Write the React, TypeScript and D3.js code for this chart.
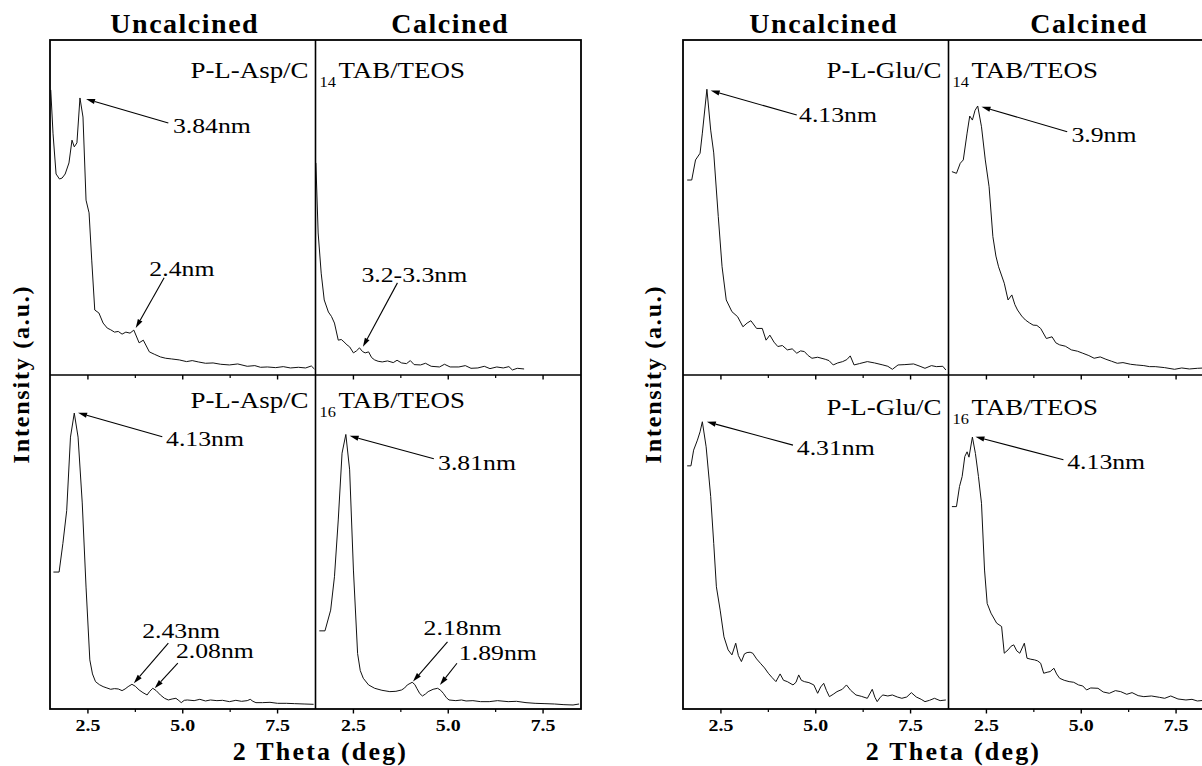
import React from "react";
import * as d3 from "d3";

type Pt = [number, number];

// ---------- axis values ----------
const thetaDomain: [number, number] = [1.5, 8.5];
const intensityDomain: [number, number] = [0, 100];
const thetaMajorTicks = [2.5, 5.0, 7.5];
const thetaMinorTicks = [3.75, 6.25];
const columnTitles = ["Uncalcined", "Calcined"];
const xAxisTitle = "2 Theta (deg)";
const yAxisTitle = "Intensity (a.u.)";

// ---------- series (2θ, intensity a.u.) ----------
const aspC14Uncalcined: Pt[] = [
  [1.52, 85.1], [1.58, 72], [1.66, 60], [1.75, 58.5], [1.82, 58.8], [1.9, 60], [2.0, 63.3], [2.08, 70.1],
  [2.14, 68.1], [2.21, 69.3], [2.29, 82.7], [2.37, 77.0], [2.45, 52.2], [2.53, 48.4], [2.6, 34.3],
  [2.68, 19.4], [2.79, 18.5], [2.9, 15.5], [3.01, 14.0], [3.1, 13.5], [3.2, 12.8], [3.3, 13.0],
  [3.4, 12.2], [3.5, 12.8], [3.61, 12.5], [3.71, 13.4], [3.85, 9.6], [3.96, 10.4], [4.12, 6.9],
  [4.25, 6.2], [4.41, 5.4], [4.55, 5.0], [4.7, 4.8], [4.91, 4.5], [5.1, 4.0], [5.25, 4.3],
  [5.41, 3.9], [5.6, 3.5], [5.8, 3.6], [6.0, 3.2], [6.23, 3.0], [6.45, 3.3], [6.7, 2.6], [6.9, 2.8],
  [7.05, 2.3], [7.23, 2.4], [7.45, 2.2], [7.65, 2.5], [7.84, 2.1], [8.05, 2.3], [8.24, 2.1],
  [8.39, 2.7], [8.47, 1.8],
];
const aspC14Calcined: Pt[] = [
  [1.51, 63.3], [1.57, 42.4], [1.65, 30.4], [1.73, 22.4], [1.84, 18.8], [1.92, 17.5], [2.0, 15.5],
  [2.1, 10.4], [2.18, 10.6], [2.25, 9.9], [2.33, 9.0], [2.4, 8.4], [2.5, 6.6], [2.58, 7.2], [2.66, 8.1],
  [2.74, 7.0], [2.81, 6.6], [2.9, 6.9], [2.98, 5.2], [3.06, 4.5], [3.15, 4.1], [3.26, 3.9], [3.4, 4.2],
  [3.55, 3.7], [3.65, 4.4], [3.77, 3.6], [3.9, 3.4], [4.0, 4.3], [4.1, 3.1], [4.27, 3.0], [4.4, 3.5],
  [4.55, 2.6], [4.77, 2.4], [4.9, 3.2], [5.05, 2.4], [5.28, 2.4], [5.45, 2.8], [5.6, 2.0], [5.78, 2.1],
  [5.95, 2.6], [6.1, 1.9], [6.28, 2.4], [6.45, 2.1], [6.6, 2.5], [6.69, 1.5], [6.82, 2.0], [7.0, 1.8],
];
const aspC16Uncalcined: Pt[] = [
  [1.59, 41.0], [1.74, 41.0], [1.84, 49.6], [1.94, 59.4], [2.04, 81.4], [2.14, 88.6], [2.24, 81.4],
  [2.35, 61.7], [2.45, 36.5], [2.55, 14.7], [2.62, 10.5], [2.7, 8.2], [2.8, 7.3], [2.9, 6.7], [3.0, 6.3],
  [3.1, 5.9], [3.2, 6.1], [3.3, 6.0], [3.4, 5.5], [3.48, 6.0], [3.56, 6.7], [3.66, 7.4], [3.75, 6.8],
  [3.85, 5.7], [3.95, 4.9], [4.06, 4.2], [4.13, 5.3], [4.21, 6.2], [4.3, 5.5], [4.41, 4.2], [4.52, 3.2],
  [4.62, 2.7], [4.72, 3.0], [4.82, 3.2], [4.9, 2.5], [4.96, 1.9], [5.04, 2.6], [5.12, 2.7], [5.3, 2.5],
  [5.45, 2.9], [5.6, 2.4], [5.73, 2.7], [5.9, 2.5], [6.05, 2.6], [6.23, 2.2], [6.4, 2.6], [6.55, 2.3],
  [6.7, 2.5], [6.78, 2.9], [6.85, 2.3], [6.93, 1.9], [7.1, 1.9], [7.3, 2.0], [7.5, 1.7], [7.73, 1.7],
  [7.95, 1.6], [8.2, 1.5], [8.45, 1.4],
];
const aspC16Calcined: Pt[] = [
  [1.6, 23.4], [1.75, 23.4], [1.9, 29.6], [2.0, 39.6], [2.1, 56.6], [2.2, 76.6], [2.3, 82.2], [2.4, 71.6],
  [2.5, 41.6], [2.61, 16.6], [2.68, 11.5], [2.76, 9.2], [2.9, 7.2], [3.06, 6.2], [3.25, 5.6], [3.46, 5.2],
  [3.62, 5.3], [3.77, 5.7], [3.85, 6.3], [3.92, 7.2], [4.05, 8.0], [4.12, 7.3], [4.17, 6.2], [4.25, 4.6],
  [4.32, 3.9], [4.4, 4.5], [4.47, 5.2], [4.6, 5.9], [4.72, 6.2], [4.8, 5.6], [4.87, 4.7], [4.95, 3.4],
  [5.02, 2.7], [5.2, 2.5], [5.35, 2.7], [5.47, 2.4], [5.65, 2.5], [5.85, 2.2], [6.08, 2.2], [6.3, 2.5],
  [6.58, 2.2], [6.8, 2.3], [7.05, 1.9], [7.29, 1.7], [7.55, 1.6], [7.8, 1.5], [8.05, 1.3], [8.29, 1.2],
  [8.45, 1.5],
];
const gluC14Uncalcined: Pt[] = [
  [1.61, 58.2], [1.73, 58.2], [1.83, 64.2], [1.95, 66.2], [2.01, 72.2], [2.13, 85.3], [2.23, 73.1],
  [2.31, 66.3], [2.43, 47.3], [2.53, 32.3], [2.64, 22.4], [2.79, 18.9], [2.94, 17.4], [3.08, 14.4],
  [3.19, 15.5], [3.29, 16.2], [3.44, 13.9], [3.59, 13.9], [3.69, 10.4], [3.79, 11.9], [3.9, 9.8],
  [4.0, 8.5], [4.12, 8.8], [4.25, 7.5], [4.38, 7.8], [4.5, 6.5], [4.6, 7.2], [4.7, 7.0], [4.8, 5.8],
  [4.9, 5.0], [5.05, 5.3], [5.25, 4.7], [5.35, 4.3], [5.46, 3.0], [5.58, 3.6], [5.71, 4.0], [5.82, 4.6],
  [5.91, 5.7], [6.01, 3.0], [6.15, 3.4], [6.36, 4.0], [6.55, 3.6], [6.77, 3.0], [6.9, 2.6], [7.02, 1.7],
  [7.17, 3.0], [7.35, 3.1], [7.58, 3.3], [7.75, 2.6], [7.88, 2.0], [8.05, 2.8], [8.18, 2.5], [8.35, 2.6],
  [8.43, 1.5],
];
const gluC14Calcined: Pt[] = [
  [1.59, 60.7], [1.71, 60.2], [1.81, 63.2], [1.89, 64.2], [1.99, 72.2], [2.06, 77.3], [2.13, 76.1],
  [2.2, 79.0], [2.27, 80.3], [2.37, 74.1], [2.47, 64.2], [2.57, 56.2], [2.67, 41.3], [2.75, 35.5],
  [2.82, 32.3], [2.97, 27.4], [3.07, 22.4], [3.17, 23.9], [3.25, 21.0], [3.32, 19.4], [3.43, 17.6],
  [3.53, 16.4], [3.63, 15.6], [3.73, 14.9], [3.83, 14.8], [3.93, 13.9], [4.08, 10.9], [4.23, 11.4],
  [4.33, 9.6], [4.43, 9.0], [4.58, 8.6], [4.74, 7.5], [4.9, 7.1], [5.04, 6.5], [5.2, 5.8], [5.34, 5.0],
  [5.5, 5.4], [5.65, 4.7], [5.8, 4.1], [5.95, 3.5], [6.1, 3.7], [6.3, 3.2], [6.45, 3.0], [6.65, 2.8],
  [6.8, 2.5], [6.95, 2.5], [7.2, 2.2], [7.46, 1.7], [7.65, 2.1], [7.85, 1.8], [8.06, 2.0], [8.25, 2.1],
  [8.45, 1.9],
];
const gluC16Uncalcined: Pt[] = [
  [1.61, 72.8], [1.71, 72.8], [1.78, 77.5], [1.88, 80.5], [1.95, 83.0], [2.01, 86.0], [2.11, 78.5],
  [2.23, 63.6], [2.31, 49.6], [2.38, 36.6], [2.48, 29.6], [2.58, 21.6], [2.69, 17.7], [2.79, 16.2],
  [2.89, 19.7], [2.96, 16.0], [3.04, 14.2], [3.12, 16.5], [3.19, 16.9], [3.27, 17.0], [3.34, 16.7],
  [3.44, 15.0], [3.54, 13.7], [3.65, 12.3], [3.75, 10.7], [3.85, 9.4], [3.95, 8.2], [4.06, 10.5],
  [4.15, 8.6], [4.25, 8.2], [4.4, 7.2], [4.48, 8.0], [4.55, 10.2], [4.62, 8.6], [4.7, 8.2], [4.82, 7.9],
  [4.95, 7.2], [5.05, 4.7], [5.13, 6.6], [5.21, 7.7], [5.28, 5.6], [5.36, 3.7], [5.46, 4.4], [5.56, 5.2],
  [5.7, 5.9], [5.81, 7.2], [5.92, 5.6], [6.06, 4.2], [6.2, 3.8], [6.36, 3.2], [6.49, 5.9], [6.56, 3.5],
  [6.62, 2.2], [6.7, 3.5], [6.77, 4.2], [6.9, 3.9], [7.02, 4.2], [7.15, 3.6], [7.27, 3.2], [7.4, 3.6],
  [7.52, 4.9], [7.65, 3.6], [7.78, 2.9], [7.88, 2.2], [8.0, 2.6], [8.13, 3.2], [8.28, 2.5], [8.43, 2.7],
];
const gluC16Calcined: Pt[] = [
  [1.59, 60.6], [1.71, 60.6], [1.79, 66.6], [1.86, 69.6], [1.93, 75.6], [1.99, 77.0], [2.04, 75.4],
  [2.13, 81.4], [2.21, 76.5], [2.29, 69.6], [2.37, 61.6], [2.45, 41.6], [2.52, 31.6], [2.62, 28.7],
  [2.77, 25.7], [2.9, 24.7], [2.97, 16.7], [3.07, 17.7], [3.15, 18.8], [3.22, 19.2], [3.3, 17.4],
  [3.38, 16.7], [3.5, 19.7], [3.57, 15.2], [3.67, 14.9], [3.77, 14.7], [3.85, 14.4], [3.93, 13.7],
  [4.01, 10.7], [4.1, 11.0], [4.18, 11.2], [4.28, 12.2], [4.35, 10.5], [4.43, 9.2], [4.55, 8.6],
  [4.68, 8.2], [4.8, 8.0], [4.93, 7.2], [5.04, 6.9], [5.14, 5.7], [5.25, 6.3], [5.44, 6.2], [5.58, 5.1],
  [5.74, 4.7], [5.9, 5.5], [6.04, 5.2], [6.2, 4.4], [6.34, 4.9], [6.5, 4.0], [6.65, 3.7], [6.85, 3.9],
  [7.06, 3.5], [7.2, 3.2], [7.36, 3.9], [7.55, 3.0], [7.76, 2.7], [7.92, 2.9], [8.06, 2.4], [8.25, 2.6],
  [8.45, 2.3],
];

// ---------- annotations: label, arrow head (peak), arrow tail, text anchor (2θ, intensity) ----------
type Ann = { label: string; head: Pt; tail: Pt; text: Pt };
const aspC14UncalcinedNotes: Ann[] = [
  { label: "3.84nm", head: [2.45, 82.4], tail: [4.62, 75.2], text: [4.74, 72.2] },
  { label: "2.4nm", head: [3.76, 14.0], tail: [4.51, 29.0], text: [4.12, 29.6] },
];
const aspC14CalcinedNotes: Ann[] = [
  { label: "3.2-3.3nm", head: [2.75, 8.4], tail: [3.66, 27.5], text: [2.71, 27.8] },
];
const aspC16UncalcinedNotes: Ann[] = [
  { label: "4.13nm", head: [2.24, 88.7], tail: [4.46, 81.5], text: [4.56, 78.7] },
  { label: "2.43nm", head: [3.71, 7.7], tail: [4.62, 19.7], text: [3.93, 21.2] },
  { label: "2.08nm", head: [4.26, 6.2], tail: [4.87, 13.7], text: [4.82, 15.2] },
];
const aspC16CalcinedNotes: Ann[] = [
  { label: "3.81nm", head: [2.4, 81.8], tail: [4.62, 74.9], text: [4.73, 71.6] },
  { label: "2.18nm", head: [4.07, 8.2], tail: [4.98, 20.1], text: [4.35, 22.2] },
  { label: "1.89nm", head: [4.78, 7.2], tail: [5.23, 13.7], text: [5.28, 14.7] },
];
const gluC14UncalcinedNotes: Ann[] = [
  { label: "4.13nm", head: [2.23, 84.9], tail: [4.5, 77.6], text: [4.56, 75.6] },
];
const gluC14CalcinedNotes: Ann[] = [
  { label: "3.9nm", head: [2.37, 80.1], tail: [4.63, 72.6], text: [4.74, 69.6] },
];
const gluC16UncalcinedNotes: Ann[] = [
  { label: "4.31nm", head: [2.13, 86.0], tail: [4.4, 79.0], text: [4.5, 76.0] },
];
const gluC16CalcinedNotes: Ann[] = [
  { label: "4.13nm", head: [2.21, 81.5], tail: [4.53, 74.6], text: [4.63, 71.8] },
];

const sampleNames = [
  { polymer: "P-L-Asp/C", chain: "14" },
  { polymer: "P-L-Asp/C", chain: "16" },
  { polymer: "P-L-Glu/C", chain: "14" },
  { polymer: "P-L-Glu/C", chain: "16" },
];

// ---------- layout ----------
const W = 1202;
const H = 766;
const PANEL_W = 265.5;
const TOP = 40;
const MID = 375;
const BOTTOM = 709;
const FONT = "'Liberation Serif', 'Times New Roman', Times, serif";
const SX = 1.17; // horizontal text stretch of the original

const figures = [
  {
    left: 50,
    titleShift: 2,
    yTitleX: 29,
    labelBaselines: [78, 408],
    sample: [sampleNames[0], sampleNames[1]],
    rows: [
      [
        { data: aspC14Uncalcined, notes: aspC14UncalcinedNotes },
        { data: aspC14Calcined, notes: aspC14CalcinedNotes },
      ],
      [
        { data: aspC16Uncalcined, notes: aspC16UncalcinedNotes },
        { data: aspC16Calcined, notes: aspC16CalcinedNotes },
      ],
    ],
  },
  {
    left: 683,
    titleShift: 8,
    yTitleX: 661,
    labelBaselines: [78, 415],
    sample: [sampleNames[2], sampleNames[3]],
    rows: [
      [
        { data: gluC14Uncalcined, notes: gluC14UncalcinedNotes },
        { data: gluC14Calcined, notes: gluC14CalcinedNotes },
      ],
      [
        { data: gluC16Uncalcined, notes: gluC16UncalcinedNotes },
        { data: gluC16Calcined, notes: gluC16CalcinedNotes },
      ],
    ],
  },
];

function T(props: {
  x: number;
  y: number;
  size: number;
  bold?: boolean;
  anchor?: "start" | "middle" | "end";
  spacing?: number;
  sx?: number;
  children: React.ReactNode;
}) {
  const { x, y, size, bold, anchor = "start", spacing, sx = SX, children } = props;
  return (
    <text
      transform={`translate(${x},${y}) scale(${sx},1)`}
      fontSize={size}
      fontFamily={FONT}
      fontWeight={bold ? "bold" : "normal"}
      textAnchor={anchor}
      letterSpacing={spacing}
      fill="#000"
    >
      {children}
    </text>
  );
}

function Arrow({ x1, y1, x2, y2 }: { x1: number; y1: number; x2: number; y2: number }) {
  const ang = Math.atan2(y2 - y1, x2 - x1);
  const len = 9;
  const hw = 2.6;
  const bx = x2 - len * Math.cos(ang);
  const by = y2 - len * Math.sin(ang);
  const px = -Math.sin(ang) * hw;
  const py = Math.cos(ang) * hw;
  return (
    <g>
      <line x1={x1} y1={y1} x2={bx} y2={by} stroke="#000" strokeWidth={1.1} />
      <polygon points={`${x2},${y2} ${bx + px},${by + py} ${bx - px},${by - py}`} fill="#000" />
    </g>
  );
}

const fmt = d3.format(".1f");

export default function App() {
  const rowTops = [TOP, MID];
  const rowBottoms = [MID, BOTTOM];
  return (
    <svg
      width={W}
      height={H}
      viewBox={`0 0 ${W} ${H}`}
      style={{ position: "absolute", left: 0, top: 0, display: "block", background: "#fff" }}
    >
      <rect x={0} y={0} width={W} height={H} fill="#fff" />
      {figures.map((fig, fi) => {
        const divider = fig.left + PANEL_W;
        const right = fig.left + 2 * PANEL_W;
        return (
          <g key={fi}>
            {/* column titles */}
            {columnTitles.map((t, ci) => (
              <T
                key={t}
                x={fig.left + PANEL_W * (ci + 0.5) + fig.titleShift}
                y={33}
                size={28}
                bold
                anchor="middle"
                spacing={1.5}
                sx={1}
              >
                {t}
              </T>
            ))}
            {fig.rows.map((row, ri) =>
              row.map((cell, ci) => {
                const x0 = fig.left + ci * PANEL_W;
                const xs = d3.scaleLinear().domain(thetaDomain).range([x0, x0 + PANEL_W]);
                const ys = d3.scaleLinear().domain(intensityDomain).range([rowBottoms[ri], rowTops[ri]]);
                const line = d3
                  .line<Pt>()
                  .x((d) => xs(d[0]))
                  .y((d) => ys(d[1]));
                const yb = rowBottoms[ri];
                return (
                  <g key={`${ri}-${ci}`}>
                    <path d={line(cell.data) || ""} fill="none" stroke="#111" strokeWidth={1} />
                    {thetaMajorTicks.map((t) => (
                      <line key={`M${t}`} x1={xs(t)} x2={xs(t)} y1={yb} y2={yb + 4.5} stroke="#000" strokeWidth={1.4} />
                    ))}
                    {thetaMinorTicks.map((t) => (
                      <line key={`m${t}`} x1={xs(t)} x2={xs(t)} y1={yb} y2={yb + 3} stroke="#000" strokeWidth={1.2} />
                    ))}
                    {ri === 1 &&
                      thetaMajorTicks.map((t) => (
                        <T key={`L${t}`} x={xs(t)} y={731} size={17} bold anchor="middle">
                          {fmt(t)}
                        </T>
                      ))}
                    {cell.notes.map((n, k) => (
                      <g key={k}>
                        <Arrow x1={xs(n.tail[0])} y1={ys(n.tail[1])} x2={xs(n.head[0])} y2={ys(n.head[1])} />
                        <T x={xs(n.text[0])} y={ys(n.text[1])} size={22}>
                          {n.label}
                        </T>
                      </g>
                    ))}
                  </g>
                );
              })
            )}
            {/* sample names straddling the divider */}
            {fig.sample.map((s, ri) => (
              <g key={`s${ri}`}>
                <T x={divider - 7} y={fig.labelBaselines[ri]} size={23} anchor="end">
                  {s.polymer}
                </T>
                <T x={divider + 4} y={fig.labelBaselines[ri] + 9} size={14}>
                  {s.chain}
                </T>
                <T x={divider + 23} y={fig.labelBaselines[ri]} size={23}>
                  TAB/TEOS
                </T>
              </g>
            ))}
            {/* frame */}
            <rect
              x={fig.left}
              y={TOP}
              width={right - fig.left}
              height={BOTTOM - TOP}
              fill="none"
              stroke="#000"
              strokeWidth={1.8}
            />
            <line x1={divider} x2={divider} y1={TOP} y2={BOTTOM} stroke="#000" strokeWidth={1.6} />
            <line x1={fig.left} x2={right} y1={MID} y2={MID} stroke="#000" strokeWidth={1.6} />
            {/* axis titles */}
            <T x={divider + 5} y={760} size={26} bold anchor="middle" spacing={2.2} sx={1}>
              {xAxisTitle}
            </T>
            <text
              transform={`translate(${fig.yTitleX},${374}) rotate(-90)`}
              fontSize={24}
              fontFamily={FONT}
              fontWeight="bold"
              textAnchor="middle"
              letterSpacing={1.8}
              fill="#000"
            >
              {yAxisTitle}
            </text>
          </g>
        );
      })}
    </svg>
  );
}
